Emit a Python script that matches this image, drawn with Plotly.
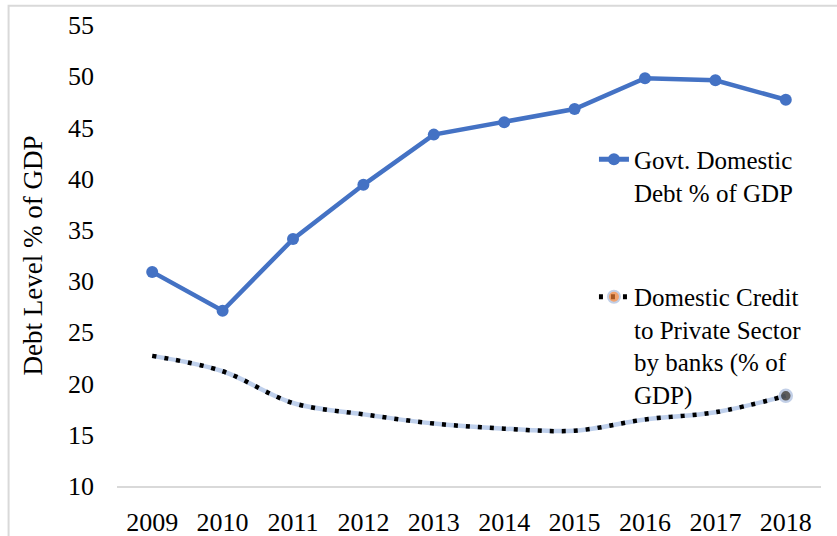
import plotly.graph_objects as go

years = ["2009", "2010", "2011", "2012", "2013", "2014", "2015", "2016", "2017", "2018"]
govt_debt = [30.9, 27.1, 34.1, 39.4, 44.3, 45.5, 46.8, 49.8, 49.6, 47.7]
private_credit = [22.7, 21.2, 18.1, 17.0, 16.1, 15.6, 15.4, 16.5, 17.2, 18.8]

govt_name = "Govt. Domestic<br>Debt % of GDP"
credit_name = "Domestic Credit<br>to Private Sector<br>by banks (% of<br>GDP)"

FONT = "Liberation Serif"

fig = go.Figure()

# light blue underlay for the credit line
fig.add_trace(go.Scatter(
    x=years, y=private_credit, mode="lines", line=dict(color="#BFD0EC", width=4.5, shape="spline", smoothing=1.0),
    showlegend=False, hoverinfo="skip"))

n = len(private_credit)
fig.add_trace(go.Scatter(
    x=years, y=private_credit, mode="lines+markers", name=credit_name, legend="legend2",
    line=dict(color="#000000", width=4.5, dash="4px,8px", shape="spline", smoothing=1.0),
    marker=dict(size=[0] * (n - 1) + [12],
                color=["#ED7D31"] + ["#1A1A1A"] * (n - 1),
                line=dict(color="#A9BCDD", width=2.5))))

fig.add_trace(go.Scatter(
    x=years, y=govt_debt, mode="lines+markers", name=govt_name, legend="legend",
    line=dict(color="#4472C4", width=4.5),
    marker=dict(size=12, color="#4472C4")))

fig.update_layout(
    width=837, height=536,
    margin=dict(l=117, r=16, t=25, b=50, autoexpand=False),
    paper_bgcolor="white", plot_bgcolor="white",
    font=dict(family=FONT, size=25, color="#000000"),
    legend=dict(x=0.6775, y=0.758, xanchor="left", yanchor="top", valign="top",
                bgcolor="rgba(0,0,0,0)", font=dict(family=FONT, size=25, color="#000"),
                itemsizing="constant"),
    legend2=dict(x=0.6775, y=0.46, xanchor="left", yanchor="top", valign="top",
                 bgcolor="rgba(0,0,0,0)", font=dict(family=FONT, size=25, color="#000"),
                 itemsizing="constant"),
    xaxis=dict(type="category", range=[-0.5, 9.5], showgrid=False, zeroline=False, automargin=False,
               showline=True, linecolor="#D9D9D9", linewidth=2, ticks="",
               tickfont=dict(family=FONT, size=26, color="#000"), ticklabelstandoff=12),
    yaxis=dict(range=[10, 55], tickvals=[10, 15, 20, 25, 30, 35, 40, 45, 50, 55], automargin=False,
               showgrid=False, zeroline=False, showline=False, ticks="",
               tickfont=dict(family=FONT, size=26, color="#000"), ticklabelstandoff=22,
               title=dict(text="Debt Level % of GDP", font=dict(family=FONT, size=27, color="#000"), standoff=17)),
    shapes=[dict(type="rect", xref="paper", yref="paper", x0=-0.154, y0=-0.3, x1=1.2, y1=1.042,
                 line=dict(color="#D9D9D9", width=2), fillcolor="rgba(0,0,0,0)", layer="below")],
)

fig.write_html("out.html", config={"displayModeBar": False},
               post_script="document.body.style.margin='0';")
